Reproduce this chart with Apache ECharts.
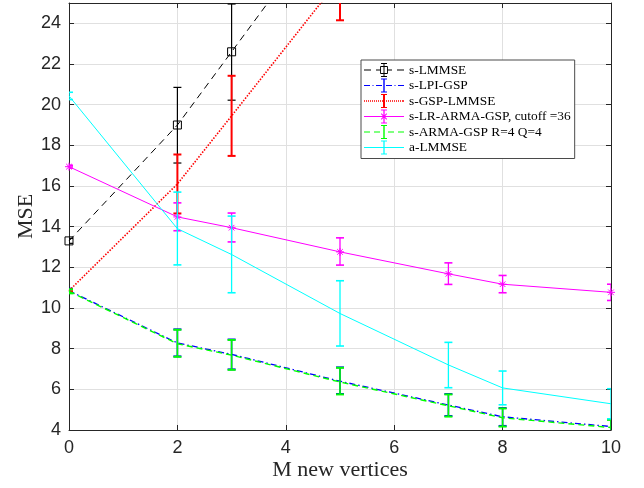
<!DOCTYPE html>
<html><head><meta charset="utf-8">
<script src="https://cdn.jsdelivr.net/npm/echarts@6/dist/echarts.min.js"></script>
<style>html,body{margin:0;padding:0;background:#fff}#c{width:644px;height:488px}</style>
</head><body><div id="c"></div>
<script>
// ---- data ----
const xVals = [0, 2, 3, 5, 7, 8, 10];
const xTicks = [0, 2, 4, 6, 8, 10];
const yTicks = [4, 6, 8, 10, 12, 14, 16, 18, 20, 22, 24];

const seriesNames = ['s-LMMSE', 's-LPI-GSP', 's-GSP-LMMSE', 's-LR-ARMA-GSP, cutoff =36', 's-ARMA-GSP R=4 Q=4', 'a-LMMSE'];

const sLMMSE    = [13.3, 19.0, 22.6, 29.8, 36.5, 40.0, 47.0];
const sLMMSELo  = [13.18, 17.13, 20.22, 26.5, 32.5, 35.5, 42.0];
const sLMMSEHi  = [13.42, 20.85, 24.95, 33.1, 40.5, 44.5, 52.0];

const sLPI      = [10.85, 8.28, 7.72, 6.40, 5.23, 4.65, 4.17];
const sLPILo    = [10.75, 7.62, 6.98, 5.77, 4.69, 4.20, 3.80];
const sLPIHi    = [10.95, 8.95, 8.45, 7.08, 5.77, 5.08, 4.53];

const sGSP      = [10.85, 16.1, 19.45, 26.2, 33.0, 36.5, 43.5];
const sGSPLo    = [10.80, 14.65, 17.48, 24.15, 30.5, 33.5, 40.0];
const sGSPHi    = [10.90, 17.55, 21.42, 28.25, 35.5, 39.5, 47.0];

const sLRARMA   = [16.95, 14.48, 13.95, 12.76, 11.68, 11.17, 10.77];
const sLRARMALo = [16.88, 13.80, 13.25, 12.11, 11.16, 10.75, 10.37];
const sLRARMAHi = [17.02, 15.17, 14.67, 13.45, 12.22, 11.60, 11.17];

const sARMA     = [10.82, 8.24, 7.68, 6.36, 5.19, 4.60, 4.12];
const sARMALo   = [10.72, 7.60, 6.96, 5.75, 4.66, 4.17, 3.75];
const sARMAHi   = [10.92, 8.93, 8.43, 7.06, 5.75, 5.06, 4.50];

const aLMMSE    = [20.43, 13.90, 12.63, 9.73, 7.20, 6.07, 5.29];
const aLMMSELo  = [20.25, 12.12, 10.75, 8.13, 6.08, 5.24, 4.55];
const aLMMSEHi  = [20.61, 15.70, 14.52, 11.34, 8.31, 6.90, 6.03];

// ---- styles ----
const colors = ['#000000', '#0000ff', '#ff0000', '#ff00ff', '#00ff00', '#00ffff'];
const AX = '#262626';

function seg(x1, y1, x2, y2, t) {
  const dx = x2 - x1, dy = y2 - y1, L = Math.hypot(dx, dy);
  const nx = -dy / L * t / 2, ny = dx / L * t / 2;
  const f = v => v.toFixed(2);
  return 'M' + f(x1 + nx) + ',' + f(y1 + ny) + 'L' + f(x2 + nx) + ',' + f(y2 + ny) +
         'L' + f(x2 - nx) + ',' + f(y2 - ny) + 'L' + f(x1 - nx) + ',' + f(y1 - ny) + 'Z';
}
function legendIcon(dashes, lineT, barT, extra) {
  let p = '';
  dashes.forEach(d => { p += seg(d[0], 7, d[1], 7, lineT); });
  p += seg(20, 0, 20, 14, barT);
  p += seg(17, 0.5, 23, 0.5, 1) + seg(17, 13.5, 23, 13.5, 1);
  if (extra) p += extra;
  return 'path://' + p;
}
const squareExtra = seg(16.5, 3.5, 23.5, 3.5, 0.9) + seg(23.5, 3.5, 23.5, 10.5, 0.9) +
                    seg(23.5, 10.5, 16.5, 10.5, 0.9) + seg(16.5, 10.5, 16.5, 3.5, 0.9);
const starExtra = seg(16, 7, 24, 7, 1) + seg(20, 3, 20, 11, 1) +
                  seg(17.2, 4.2, 22.8, 9.8, 1) + seg(17.2, 9.8, 22.8, 4.2, 1);
const dots = [];
for (let k = 0; k < 20; k++) dots.push([k * 2, k * 2 + 1]);
dots.push([39, 40]);
const icons = [
  legendIcon([[0, 7], [12, 17], [23, 28], [33, 40]], 1, 1, squareExtra),
  legendIcon([[0, 6], [8.5, 9.5], [12, 18], [22, 28], [30.5, 31.5], [34, 40]], 1.2, 1.4),
  legendIcon(dots, 1.3, 2),
  legendIcon([[0, 40]], 1, 1.3, starExtra),
  legendIcon([[0, 6], [10, 16], [24, 30], [34, 40]], 1.2, 1.4),
  legendIcon([[0, 40]], 1, 1.3)
];

const lineDefs = [
  {v: sLMMSE, lo: sLMMSELo, hi: sLMMSEHi, type: [7, 5], w: 1, sym: 'rect', symSize: 8, barW: 1.2, capW: 1.2},
  {v: sLPI, lo: sLPILo, hi: sLPIHi, type: [6, 3, 1.5, 3], w: 1.3, sym: 'none', barW: 1.6, capW: 2},
  {v: sGSP, lo: sGSPLo, hi: sGSPHi, type: [1.5, 1.5], w: 1.6, sym: 'none', barW: 2, capW: 2},
  {v: sLRARMA, lo: sLRARMALo, hi: sLRARMAHi, type: 'solid', w: 1, sym: 'path://M0,5L10,5M5,0L5,10M1.5,1.5L8.5,8.5M8.5,1.5L1.5,8.5', symSize: 8, barW: 1.3, capW: 1.6},
  {v: sARMA, lo: sARMALo, hi: sARMAHi, type: [6, 4], w: 1.4, sym: 'none', barW: 1.6, capW: 2},
  {v: aLMMSE, lo: aLMMSELo, hi: aLMMSEHi, type: 'solid', w: 1, sym: 'none', barW: 1.3, capW: 1.6}
];

function errRender(color, lw, capLw) {
  return function (params, api) {
    const cs = params.coordSys;
    const x = api.value(0), lo = api.value(1), hi = api.value(2);
    const pLo = api.coord([x, lo]), pHi = api.coord([x, hi]);
    const top = cs.y, bot = cs.y + cs.height;
    const y1 = Math.max(top, Math.min(bot, pHi[1]));
    const y2 = Math.max(top, Math.min(bot, pLo[1]));
    const children = [];
    if (y2 > y1) children.push({type: 'line', shape: {x1: pLo[0], y1: y1, x2: pLo[0], y2: y2}, style: {stroke: color, lineWidth: lw}});
    [pHi[1], pLo[1]].forEach(yy => {
      if (yy >= top - 0.5 && yy <= bot + 0.5)
        children.push({type: 'line', shape: {x1: pLo[0] - 4, y1: yy, x2: pLo[0] + 4, y2: yy}, style: {stroke: color, lineWidth: capLw}});
    });
    return {type: 'group', children: children};
  };
}

const series = [];
lineDefs.forEach((d, i) => {
  series.push({
    name: seriesNames[i], type: 'line', xAxisIndex: 0, yAxisIndex: 0,
    data: xVals.map((x, j) => [x, d.v[j]]),
    symbol: d.sym, symbolSize: d.symSize || 0, showSymbol: d.sym !== 'none',
    lineStyle: {color: colors[i], width: d.w, type: d.type},
    itemStyle: {color: 'rgba(0,0,0,0)', borderColor: colors[i], borderWidth: 1},
    clip: true, silent: true, animation: false, z: 2 + i * 0.1
  });
  series.push({
    name: 'err' + i, type: 'custom', coordinateSystem: 'cartesian2d', xAxisIndex: 0, yAxisIndex: 0,
    data: xVals.map((x, j) => [x, d.lo[j], d.hi[j]]),
    encode: {x: 0, y: [1, 2]},
    renderItem: errRender(colors[i], d.barW, d.capW),
    clip: true, silent: true, animation: false, z: 2 + i * 0.1 + 0.05
  });
});

const axisCommon = {
  axisLine: {show: true, onZero: false, lineStyle: {color: AX, width: 1}},
  axisTick: {show: true, inside: true, length: 5, lineStyle: {color: AX, width: 1}}
};

const option = {
  backgroundColor: '#ffffff',
  animation: false,
  grid: {left: 69, right: 33, top: 3, bottom: 58, containLabel: false},
  legend: {
    orient: 'vertical', left: 361, top: 60,
    padding: [3, 4, 4, 3], itemGap: 1.5, itemWidth: 40, itemHeight: 14,
    backgroundColor: '#ffffff', borderColor: '#4a4a4a', borderWidth: 1, borderRadius: 0,
    textStyle: {fontFamily: 'Liberation Serif', fontSize: 13.4, color: '#000', lineHeight: 14},
    selectedMode: false,
    data: seriesNames.map((n, i) => ({name: n, icon: icons[i], itemStyle: {color: colors[i], borderWidth: 0}}))
  },
  xAxis: [
    Object.assign({
      type: 'value', min: xTicks[0], max: xTicks[xTicks.length - 1], interval: xTicks[1] - xTicks[0], position: 'bottom',
      axisLabel: {color: AX, fontFamily: 'Liberation Sans', fontSize: 18, margin: 9},
      splitLine: {show: true, lineStyle: {color: '#e0e0e0', width: 1}},
      name: 'M new vertices', nameLocation: 'middle', nameGap: 29, nameMoveOverlap: false,
      nameTextStyle: {fontFamily: 'Liberation Serif', fontSize: 22, color: AX}
    }, axisCommon),
    Object.assign({
      type: 'value', min: xTicks[0], max: xTicks[xTicks.length - 1], interval: xTicks[1] - xTicks[0], position: 'top',
      axisLabel: {show: false}, splitLine: {show: false}
    }, axisCommon)
  ],
  yAxis: [
    Object.assign({
      type: 'value', min: yTicks[0], max: 25, interval: yTicks[1] - yTicks[0], position: 'left',
      axisLabel: {color: AX, fontFamily: 'Liberation Sans', fontSize: 18, margin: 8, showMaxLabel: false},
      splitLine: {show: true, lineStyle: {color: '#e0e0e0', width: 1}},
      name: 'MSE', nameLocation: 'middle', nameGap: 32, nameMoveOverlap: false,
      nameTextStyle: {fontFamily: 'Liberation Serif', fontSize: 22, color: AX}
    }, axisCommon),
    Object.assign({
      type: 'value', min: yTicks[0], max: 25, interval: yTicks[1] - yTicks[0], position: 'right',
      axisLabel: {show: false}, splitLine: {show: false}
    }, axisCommon)
  ],
  series: series
};

const chart = echarts.init(document.getElementById('c'), null, {renderer: 'canvas'});
chart.setOption(option);
</script>
</body></html>
